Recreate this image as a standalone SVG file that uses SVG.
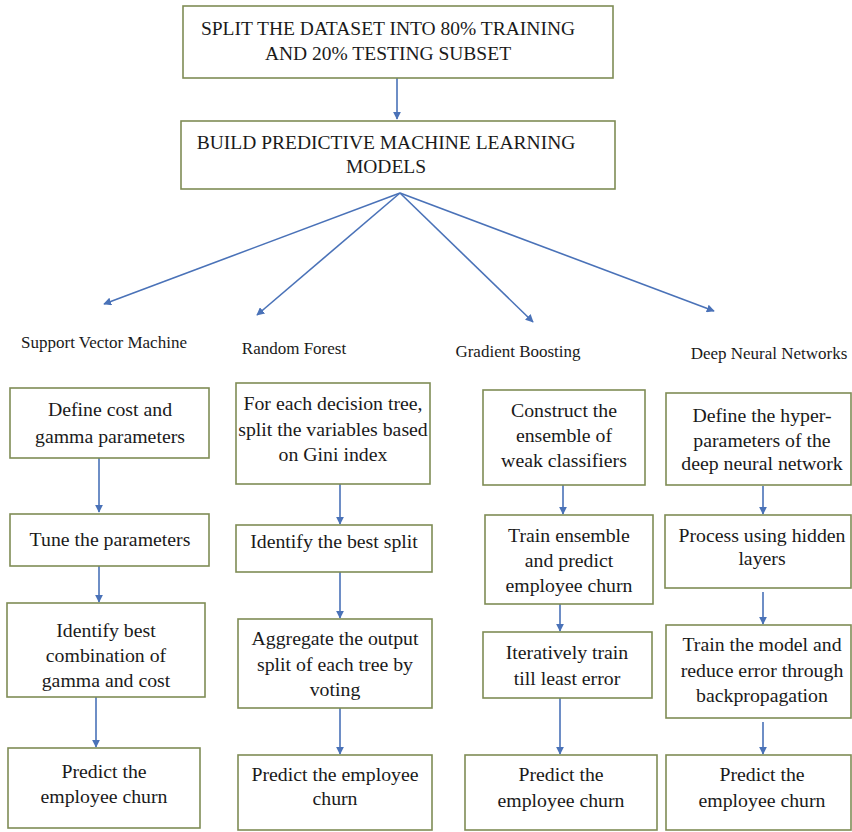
<svg xmlns="http://www.w3.org/2000/svg" width="852" height="832" viewBox="0 0 852 832">
<style>
.box{fill:#ffffff;stroke:#7f8c55;stroke-width:1.6}
.t{font-family:"Liberation Serif","Times New Roman",serif;font-size:19.8px;fill:#1a1a1a;text-anchor:middle}
.h{font-family:"Liberation Serif","Times New Roman",serif;font-size:17px;fill:#1a1a1a;text-anchor:middle}
.cap{font-family:"Liberation Serif","Times New Roman",serif;font-size:19.5px;fill:#1a1a1a;text-anchor:middle}
.c{stroke:#4a72b8;stroke-width:1.6;fill:none;marker-end:url(#ah)}
</style>
<defs>
<marker id="ah" viewBox="0 0 10 10" refX="9" refY="5" markerWidth="8" markerHeight="8" orient="auto" markerUnits="userSpaceOnUse">
<path d="M0,0 L10,5 L0,10 z" fill="#4a72b8"/>
</marker>
</defs>
<rect width="852" height="832" fill="#ffffff"/>

<g id="connectors">
<line class="c" x1="397" y1="78" x2="397" y2="119"/>
<line class="c" x1="400" y1="193" x2="104" y2="304"/>
<line class="c" x1="400" y1="193" x2="257" y2="315"/>
<line class="c" x1="400" y1="193" x2="533" y2="322"/>
<line class="c" x1="400" y1="193" x2="714" y2="311"/>
<line class="c" x1="99" y1="458" x2="99" y2="512"/>
<line class="c" x1="99" y1="566" x2="99" y2="602"/>
<line class="c" x1="96" y1="697" x2="96" y2="747"/>
<line class="c" x1="340" y1="484" x2="340" y2="524"/>
<line class="c" x1="340" y1="572" x2="340" y2="618"/>
<line class="c" x1="340" y1="708" x2="340" y2="754"/>
<line class="c" x1="563" y1="485" x2="563" y2="514"/>
<line class="c" x1="560" y1="604" x2="560" y2="631"/>
<line class="c" x1="560" y1="698" x2="560" y2="754"/>
<line class="c" x1="763" y1="486" x2="763" y2="514"/>
<line class="c" x1="763" y1="592" x2="763" y2="624"/>
<line class="c" x1="763" y1="722" x2="763" y2="754"/>
</g>

<g id="split">
<rect class="box" x="183" y="6" width="430" height="72"/>
<text class="cap" x="388" y="35">SPLIT THE DATASET INTO 80% TRAINING</text>
<text class="cap" x="388" y="60">AND 20% TESTING SUBSET</text>
</g>
<g id="build">
<rect class="box" x="181" y="121" width="434" height="68"/>
<text class="cap" x="386" y="149">BUILD PREDICTIVE MACHINE LEARNING</text>
<text class="cap" x="386" y="173">MODELS</text>
</g>

<g id="label-svm"><text class="h" x="104" y="348">Support Vector Machine</text></g>
<g id="label-rf"><text class="h" x="294" y="354">Random Forest</text></g>
<g id="label-gb"><text class="h" x="518" y="357">Gradient Boosting</text></g>
<g id="label-dnn"><text class="h" x="769" y="359">Deep Neural Networks</text></g>

<g id="svm1"><rect class="box" x="10" y="388" width="199" height="70"/>
<text class="t" x="110" y="416">Define cost and</text>
<text class="t" x="110" y="443">gamma parameters</text></g>
<g id="svm2"><rect class="box" x="10" y="514" width="199" height="52"/>
<text class="t" x="110" y="546">Tune the parameters</text></g>
<g id="svm3"><rect class="box" x="7" y="603" width="198" height="94"/>
<text class="t" x="106" y="637">Identify best</text>
<text class="t" x="106" y="662">combination of</text>
<text class="t" x="106" y="687">gamma and cost</text></g>
<g id="svm4"><rect class="box" x="8" y="748" width="192" height="80"/>
<text class="t" x="104" y="778">Predict the</text>
<text class="t" x="104" y="803">employee churn</text></g>

<g id="rf1"><rect class="box" x="236" y="383" width="194" height="101"/>
<text class="t" x="333" y="410">For each decision tree,</text>
<text class="t" x="333" y="436">split the variables based</text>
<text class="t" x="333" y="461">on Gini index</text></g>
<g id="rf2"><rect class="box" x="236" y="525" width="196" height="47"/>
<text class="t" x="334" y="548">Identify the best split</text></g>
<g id="rf3"><rect class="box" x="238" y="619" width="194" height="89"/>
<text class="t" x="335" y="645">Aggregate the output</text>
<text class="t" x="335" y="671">split of each tree by</text>
<text class="t" x="335" y="696">voting</text></g>
<g id="rf4"><rect class="box" x="238" y="755" width="194" height="75"/>
<text class="t" x="335" y="781">Predict the employee</text>
<text class="t" x="335" y="805">churn</text></g>

<g id="gb1"><rect class="box" x="483" y="390" width="162" height="95"/>
<text class="t" x="564" y="417">Construct the</text>
<text class="t" x="564" y="442">ensemble of</text>
<text class="t" x="564" y="467">weak classifiers</text></g>
<g id="gb2"><rect class="box" x="485" y="515" width="168" height="89"/>
<text class="t" x="569" y="542">Train ensemble</text>
<text class="t" x="569" y="567">and predict</text>
<text class="t" x="569" y="592">employee churn</text></g>
<g id="gb3"><rect class="box" x="483" y="632" width="169" height="66"/>
<text class="t" x="567" y="659">Iteratively train</text>
<text class="t" x="567" y="685">till least error</text></g>
<g id="gb4"><rect class="box" x="465" y="755" width="192" height="75"/>
<text class="t" x="561" y="781">Predict the</text>
<text class="t" x="561" y="807">employee churn</text></g>

<g id="dnn1"><rect class="box" x="666" y="393" width="185" height="92"/>
<text class="t" x="762" y="422">Define the hyper-</text>
<text class="t" x="762" y="447">parameters of the</text>
<text class="t" x="762" y="470">deep neural network</text></g>
<g id="dnn2"><rect class="box" x="665" y="515" width="186" height="73"/>
<text class="t" x="762" y="542">Process using hidden</text>
<text class="t" x="762" y="565">layers</text></g>
<g id="dnn3"><rect class="box" x="666" y="625" width="185" height="93"/>
<text class="t" x="762" y="651">Train the model and</text>
<text class="t" x="762" y="677">reduce error through</text>
<text class="t" x="762" y="702">backpropagation</text></g>
<g id="dnn4"><rect class="box" x="666" y="755" width="185" height="75"/>
<text class="t" x="762" y="781">Predict the</text>
<text class="t" x="762" y="807">employee churn</text></g>
</svg>
